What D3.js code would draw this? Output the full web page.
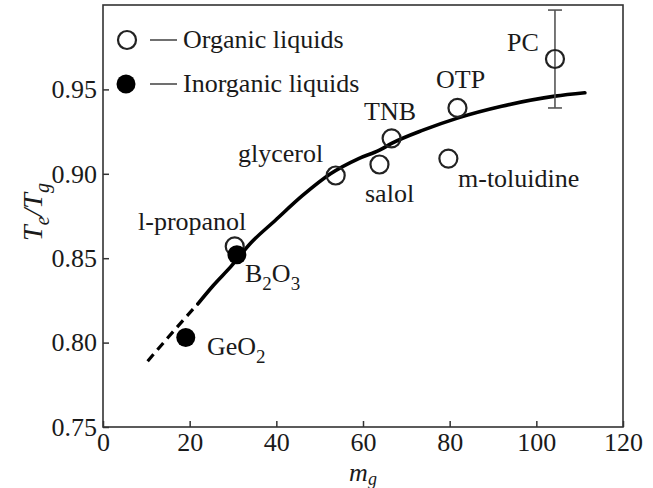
<!doctype html>
<html>
<head>
    <meta charset="utf-8">
    <style>
        html, body {
            margin: 0;
            padding: 0;
            background: #fff;
        }
    </style>
</head>
<body>
<svg id="chart" width="653" height="488"></svg>
<script src="https://cdn.jsdelivr.net/npm/d3@7/dist/d3.min.js"></script>
<script>
    // data
    var organicNames = ['l-propanol', 'glycerol', 'salol', 'TNB', 'm-toluidine', 'OTP', 'PC'];
    var organicMg = [30.4, 53.7, 63.8, 66.6, 79.7, 81.8, 104.3];
    var organicTe = [0.857, 0.899, 0.9055, 0.921, 0.909, 0.939, 0.968];

    var inorganicNames = ['B2O3', 'GeO2'];
    var inorganicMg = [30.9, 19.1];
    var inorganicTe = [0.852, 0.803];

    // PC error bar
    var pcErrLow = 0.939, pcErrHigh = 0.997;

    // fitted curve
    var curveMg = [10.3, 15, 19.1, 21.9, 25.5, 29.5, 34.1, 39.8, 46, 52.5, 59, 63.8, 66.6, 74, 81.8, 92, 104.3, 111.2];
    var curveTe = [0.789, 0.803, 0.815, 0.823, 0.834, 0.845, 0.859, 0.8725, 0.887, 0.900, 0.909, 0.914, 0.918, 0.926, 0.933, 0.940, 0.946, 0.948];
    var dashedUntil = 21.9;

    var xTicks = [0, 20, 40, 60, 80, 100, 120];
    var yTicks = [0.75, 0.80, 0.85, 0.90, 0.95];

    var FONT = 'Liberation Serif';
    var INK = '#1a1a1a';

    var margin = {top: 5, right: 30, bottom: 61, left: 103};
    var width = 653 - margin.left - margin.right,
        height = 488 - margin.top - margin.bottom;

    var svg = d3.select('#chart');
    var g = svg.append('g').attr('transform', 'translate(' + margin.left + ',' + margin.top + ')');

    var x = d3.scaleLinear().domain([0, 120]).range([0, width]);
    var y = d3.scaleLinear().domain([0.75, 1.0]).range([height, 0]);

    // axes, ticks pointing inward
    var xAxis = g.append('g').attr('transform', 'translate(0,' + height + ')')
        .call(d3.axisBottom(x).tickValues(xTicks).tickSize(-6).tickPadding(10).tickFormat(d3.format('d')));
    var yAxis = g.append('g')
        .call(d3.axisLeft(y).tickValues(yTicks).tickSize(-6).tickPadding(6).tickFormat(d3.format('.2f')));

    [xAxis, yAxis].forEach(function(ax){
        ax.attr('font-family', FONT).attr('font-size', 26);
        ax.select('.domain').remove();
        ax.selectAll('line').attr('stroke', '#333').attr('stroke-width', 1.5);
        ax.selectAll('text').attr('font-family', FONT).attr('font-size', 26).attr('fill', INK);
    });
    xAxis.selectAll('text').attr('dy', '0.71em').attr('y', 6);
    yAxis.selectAll('text').attr('x', -6);

    // frame
    g.append('rect')
        .attr('width', width).attr('height', height)
        .attr('fill', 'none').attr('stroke', '#333').attr('stroke-width', 1.6);

    // curve
    var pts = curveMg.map(function(m, i){ return [m, curveTe[i]]; });
    var line = d3.line()
        .x(function(d){ return x(d[0]); })
        .y(function(d){ return y(d[1]); })
        .curve(d3.curveMonotoneX);

    g.append('path')
        .datum(pts.filter(function(d){ return d[0] <= dashedUntil; }))
        .attr('d', line)
        .attr('fill', 'none').attr('stroke', '#000').attr('stroke-width', 3.2)
        .attr('stroke-dasharray', '9,6');
    g.append('path')
        .datum(pts.filter(function(d){ return d[0] >= dashedUntil; }))
        .attr('d', line)
        .attr('fill', 'none').attr('stroke', '#000').attr('stroke-width', 3.6)
        .attr('stroke-linecap', 'round');

    // error bar on PC
    var pcX = x(organicMg[6]);
    g.append('line').attr('x1', pcX).attr('x2', pcX).attr('y1', y(pcErrLow)).attr('y2', y(pcErrHigh))
        .attr('stroke', '#555').attr('stroke-width', 1.6);
    [pcErrLow, pcErrHigh].forEach(function(v){
        g.append('line').attr('x1', pcX - 7).attr('x2', pcX + 7).attr('y1', y(v)).attr('y2', y(v))
            .attr('stroke', '#555').attr('stroke-width', 1.6);
    });

    // points
    var organic = organicNames.map(function(n, i){ return {name: n, m: organicMg[i], t: organicTe[i]}; });
    var inorganic = inorganicNames.map(function(n, i){ return {name: n, m: inorganicMg[i], t: inorganicTe[i]}; });

    g.selectAll('.org').data(organic).enter().append('circle')
        .attr('class', 'org')
        .attr('cx', function(d){ return x(d.m); })
        .attr('cy', function(d){ return y(d.t); })
        .attr('r', 9)
        .attr('fill', function(d){ return d.name === 'l-propanol' ? '#fff' : 'none'; })
        .attr('stroke', '#222').attr('stroke-width', 2.2);

    g.selectAll('.inorg').data(inorganic).enter().append('circle')
        .attr('class', 'inorg')
        .attr('cx', function(d){ return x(d.m); })
        .attr('cy', function(d){ return y(d.t); })
        .attr('r', 9.5)
        .attr('fill', '#000');

    function txt(xp, yp, size){
        return svg.append('text').attr('x', xp).attr('y', yp)
            .attr('font-family', FONT).attr('font-size', size || 26).attr('fill', INK);
    }

    // point labels (absolute svg coords)
    var labelPos = {
        'l-propanol': [138, 230],
        'glycerol': [238, 162],
        'salol': [365, 202],
        'TNB': [364, 120],
        'm-toluidine': [458, 187],
        'OTP': [436, 88],
        'PC': [507, 51]
    };
    organic.forEach(function(d){
        txt(labelPos[d.name][0], labelPos[d.name][1]).text(d.name);
    });

    function subText(xp, yp, parts){
        var t = txt(xp, yp);
        parts.forEach(function(p){
            var s = t.append('tspan').text(p[0]);
            if(p[1]) s.attr('font-size', 19).attr('dy', 8);
            else if(p[2]) s.attr('dy', -8);
        });
    }
    subText(245, 282, [['B'], ['2', true], ['O', false, true], ['3', true]]);
    subText(207, 355, [['GeO'], ['2', true]]);

    // legend
    var legend = svg.append('g');
    legend.append('circle').attr('cx', 127).attr('cy', 40).attr('r', 9)
        .attr('fill', 'none').attr('stroke', '#222').attr('stroke-width', 2.2);
    legend.append('circle').attr('cx', 126).attr('cy', 84).attr('r', 9.5).attr('fill', '#000');
    [40, 84].forEach(function(yy){
        legend.append('line').attr('x1', 150).attr('x2', 177).attr('y1', yy).attr('y2', yy)
            .attr('stroke', '#222').attr('stroke-width', 1.3);
    });
    txt(183, 48).text('Organic liquids');
    txt(183, 92).text('Inorganic liquids');

    // axis titles
    var xt = txt(363, 481, 26).attr('text-anchor', 'middle').attr('font-style', 'italic');
    xt.append('tspan').text('m');
    xt.append('tspan').text('g').attr('font-size', 18).attr('dy', 4);

    var yt = svg.append('text').attr('transform', 'translate(42,212) rotate(-90)')
        .attr('font-family', FONT).attr('fill', INK)
        .attr('text-anchor', 'middle').attr('font-size', 28).attr('font-style', 'italic');
    yt.append('tspan').text('T');
    yt.append('tspan').text('e').attr('font-size', 20).attr('dy', 7);
    yt.append('tspan').text('/').attr('dy', -7);
    yt.append('tspan').text('T');
    yt.append('tspan').text('g').attr('font-size', 20).attr('dy', 7);
</script>
</body>
</html>
